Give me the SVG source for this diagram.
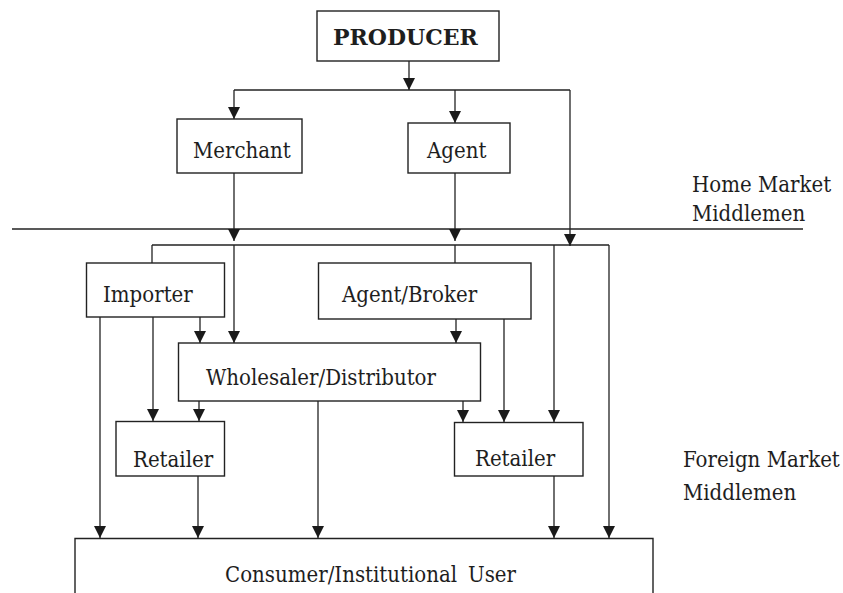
<svg xmlns="http://www.w3.org/2000/svg" width="843" height="593" viewBox="0 0 843 593">
  <style>
    .box { fill: #ffffff; stroke: #222222; stroke-width: 1.4; }
    .lbl { font-family: "DejaVu Serif Condensed", "DejaVu Serif", serif; font-stretch: condensed; font-size: 22px; fill: #1e1e1e; }
    .title { font-family: "DejaVu Serif", "Liberation Serif", serif; font-size: 22px; font-weight: bold; fill: #1e1e1e; }
    .wire { fill: none; stroke: #222222; stroke-width: 1.3; }
    .arr { fill: none; stroke: #222222; stroke-width: 1.3; marker-end: url(#head); }
  </style>
  <defs>
    <marker id="head" markerUnits="userSpaceOnUse" markerWidth="12" markerHeight="12" refX="12" refY="6" orient="auto">
      <path d="M0,0 L12,6 L0,12 Z" fill="#1a1a1a"/>
    </marker>
  </defs>
  <rect width="843" height="593" fill="#ffffff"/>

  <!-- market divider and side labels -->
  <g id="divider">
    <line class="wire" x1="12" y1="229" x2="803" y2="229"/>
    <text class="lbl" x="692" y="192">Home Market</text>
    <text class="lbl" x="692" y="221">Middlemen</text>
    <text class="lbl" x="683" y="467">Foreign Market</text>
    <text class="lbl" x="683" y="500">Middlemen</text>
  </g>

  <!-- connectors -->
  <g id="connectors">
    <!-- producer distribution -->
    <line class="arr" x1="409" y1="61" x2="409" y2="90"/>
    <line class="wire" x1="234" y1="90" x2="570" y2="90"/>
    <line class="arr" x1="234" y1="90" x2="234" y2="119"/>
    <line class="arr" x1="455" y1="90" x2="455" y2="123"/>
    <line class="arr" x1="570" y1="90" x2="570" y2="246"/>
    <!-- home middlemen to foreign bus -->
    <line class="arr" x1="234" y1="173" x2="234" y2="241"/>
    <line class="arr" x1="455" y1="173" x2="455" y2="241"/>
    <line class="wire" x1="152" y1="245" x2="609" y2="245"/>
    <line class="wire" x1="152" y1="245" x2="152" y2="263"/>
    <line class="arr" x1="234" y1="245" x2="234" y2="343"/>
    <line class="wire" x1="455" y1="245" x2="455" y2="263"/>
    <line class="arr" x1="554" y1="245" x2="554" y2="422"/>
    <line class="arr" x1="609" y1="245" x2="609" y2="538"/>
    <!-- importer -->
    <line class="arr" x1="100" y1="317" x2="100" y2="538"/>
    <line class="arr" x1="153" y1="317" x2="153" y2="421"/>
    <line class="arr" x1="200" y1="317" x2="200" y2="343"/>
    <!-- agent/broker -->
    <line class="arr" x1="456" y1="319" x2="456" y2="343"/>
    <line class="arr" x1="504" y1="319" x2="504" y2="422"/>
    <!-- wholesaler -->
    <line class="arr" x1="199" y1="401" x2="199" y2="421"/>
    <line class="arr" x1="318" y1="401" x2="318" y2="538"/>
    <line class="arr" x1="463" y1="401" x2="463" y2="422"/>
    <!-- retailers -->
    <line class="arr" x1="198" y1="476" x2="198" y2="538"/>
    <line class="arr" x1="554" y1="476" x2="554" y2="538"/>
  </g>

  <g id="producer">
    <rect class="box" x="317" y="11" width="182" height="50"/>
    <text class="title" x="333" y="45">PRODUCER</text>
  </g>
  <g id="merchant">
    <rect class="box" x="177" y="119" width="125" height="54"/>
    <text class="lbl" x="193" y="158">Merchant</text>
  </g>
  <g id="agent">
    <rect class="box" x="408" y="123" width="102" height="50"/>
    <text class="lbl" x="427" y="158">Agent</text>
  </g>
  <g id="importer">
    <rect class="box" x="86.5" y="263" width="138" height="54"/>
    <text class="lbl" x="103" y="302">Importer</text>
  </g>
  <g id="agent-broker">
    <rect class="box" x="318.5" y="263" width="212.5" height="56"/>
    <text class="lbl" x="342" y="302">Agent/Broker</text>
  </g>
  <g id="wholesaler">
    <rect class="box" x="178.5" y="343" width="302" height="58"/>
    <text class="lbl" x="206" y="385">Wholesaler/Distributor</text>
  </g>
  <g id="retailer-left">
    <rect class="box" x="116" y="421.5" width="108.5" height="54.5"/>
    <text class="lbl" x="133" y="467">Retailer</text>
  </g>
  <g id="retailer-right">
    <rect class="box" x="454.5" y="422.5" width="128.5" height="53.5"/>
    <text class="lbl" x="475" y="466">Retailer</text>
  </g>
  <g id="consumer">
    <path class="box" d="M75,600 L75,538.5 L653,538.5 L653,600"/>
    <text class="lbl" x="225" y="582">Consumer/Institutional <tspan x="468">User</tspan></text>
  </g>
</svg>
